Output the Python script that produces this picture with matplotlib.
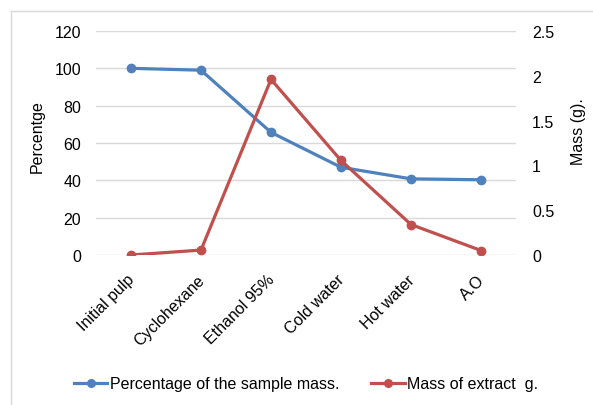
import matplotlib
matplotlib.use("Agg")
import matplotlib.pyplot as plt
from matplotlib.lines import Line2D
from matplotlib.transforms import ScaledTranslation

plt.rcParams['font.family'] = ['Liberation Sans', 'DejaVu Sans']

categories = ["Initial pulp", "Cyclohexane", "Ethanol 95%", "Cold water", "Hot water", "A.O"]
percentage = [100, 99, 65.7, 47, 40.8, 40.3]
mass_extract = [0.0, 0.055, 1.96, 1.055, 0.34, 0.05]

blue = "#4F81BD"
red = "#C0504D"
grid_c = "#D9D9D9"
fs = 11.5

W, H = 593, 406
fig = plt.figure(figsize=(W / 100, H / 100), dpi=100)
ax = fig.add_axes([96 / W, 1 - 256 / H, 420 / W, 224 / H])
ax2 = ax.twinx()

x = list(range(len(categories)))
ax.plot(x, percentage, color=blue, lw=2.3, marker="o", ms=6, zorder=3)
ax2.plot(x, mass_extract, color=red, lw=2.3, marker="o", ms=6, zorder=3)

ax.set_xlim(-0.5, len(categories) - 0.5)
ax.set_ylim(0, 120)
ax.set_yticks(range(0, 121, 20))
ax2.set_ylim(0, 2.5)
ax2.set_yticks([0, 0.5, 1, 1.5, 2, 2.5])
ax2.set_yticklabels(["0", "0.5", "1", "1.5", "2", "2.5"])

ax.grid(axis="y", color=grid_c, lw=1)
ax.set_axisbelow(True)
for a in (ax, ax2):
    for s in a.spines.values():
        s.set_visible(False)
    a.tick_params(length=0, labelsize=fs, colors="#000000")

ax.tick_params(axis="y", pad=10.8)
ax2.tick_params(axis="y", pad=11.5)
ax.set_xticks(x)
ax.set_xticklabels(categories, rotation=45, ha="right", va="top", rotation_mode="anchor")
ax.tick_params(axis="x", pad=12)
shift = ScaledTranslation(-3 / 72, 0, fig.dpi_scale_trans)
for lbl in ax.get_xticklabels():
    lbl.set_transform(lbl.get_transform() + shift)

# axis titles
fig.text(37 / W, 1 - 137 / H, "Percentge", rotation=90, ha="center", va="center", fontsize=fs)
fig.text(578 / W, 1 - 132 / H, "Mass (g).", rotation=90, ha="center", va="center", fontsize=fs)

handles = [
    Line2D([], [], color=blue, lw=2.3, marker="o", ms=5.5),
    Line2D([], [], color=red, lw=2.3, marker="o", ms=5.5),
]
labels = ["Percentage of the sample mass.", "Mass of extract  g."]
fig.legend(handles, labels, loc="center", bbox_to_anchor=(306 / W, 1 - 385 / H),
           ncol=2, frameon=False, fontsize=fs, handlelength=2.1, handletextpad=0.15,
           columnspacing=2.0, borderpad=0)

# light frame around the chart area
fig.add_artist(Line2D([11 / W, 11 / W], [0, 1 - 12 / H], transform=fig.transFigure,
                      color=grid_c, lw=1))
fig.add_artist(Line2D([11 / W, 1], [1 - 12 / H, 1 - 12 / H], transform=fig.transFigure,
                      color=grid_c, lw=1))

fig.savefig("out.png", dpi=100)
